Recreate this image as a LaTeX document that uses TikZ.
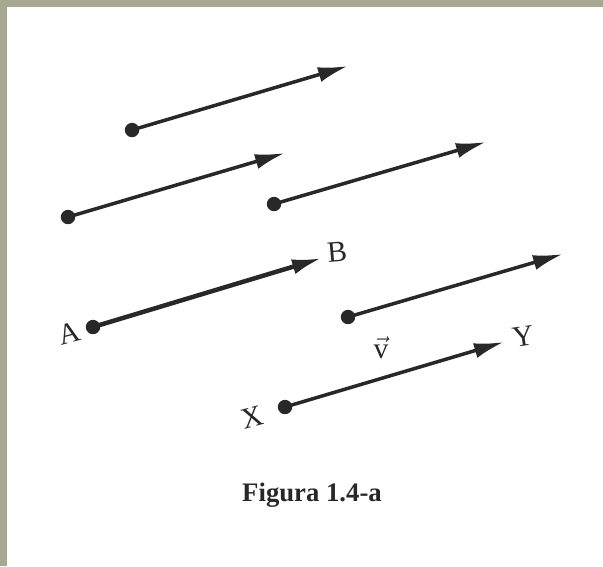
\documentclass[tikz,border=0pt]{standalone}
\usepackage{fontspec}
\setmainfont{Liberation Serif}
\usepackage{tikz}
\usetikzlibrary{arrows.meta, positioning}
\definecolor{frame}{RGB}{167,168,143}
\definecolor{ink}{RGB}{40,40,40}

\begin{document}
\begin{tikzpicture}[
      x=0.025cm, y=-0.025cm,
      dot/.style={circle, fill=ink, inner sep=0pt, minimum size=0.36cm},
      vec/.style={-{Latex[length=7.5mm, width=3.8mm]}, draw=ink, line width=2.5pt},
      lbl/.style={text=ink, font=\fontsize{21}{24}\selectfont, inner sep=0pt}
  ]
      % Page
      \useasboundingbox (0,0) rectangle (603,566);
      \fill[frame] (0,0) rectangle (603,566);
      \fill[white] (7,7) rectangle (603,566);

      % Start points
      \node[dot] (P1) at (132,130) {};
      \node[dot] (P2) at (68,217) {};
      \node[dot] (P3) at (274,204) {};
      \node[dot] (A) at (93,327) {};
      \node[dot] (P5) at (348,317) {};
      \node[dot] (X) at (285,407) {};

      % End points
      \coordinate (Q1) at (348,66);
      \coordinate (Q2) at (285,153);
      \coordinate (Q3) at (486,142);
      \coordinate (B) at (322,258);
      \coordinate (Q5) at (563,254);
      \coordinate (Y) at (504,342);

      % Labels
      \node[lbl, rotate=15] (lA) at (69,333) {A};
      \node[lbl, rotate=5] (lB) at (337,252) {B};
      \node[lbl, rotate=15] (lX) at (252,417) {X};
      \node[lbl, rotate=8] (lY) at (523,336) {Y};
      \node[lbl] (v) at (381,348) {$\vec{\mathrm{v}}$};

      % Caption
      \node[text=ink, font=\fontsize{19}{22}\selectfont\bfseries] (cap) at (312,495) {Figura 1.4-a};

      % Arrows
      \draw[vec] (P1.center) -- (Q1);
      \draw[vec] (P2.center) -- (Q2);
      \draw[vec] (P3.center) -- (Q3);
      \draw[vec, line width=3.2pt] (A.center) -- (B);
      \draw[vec] (P5.center) -- (Q5);
      \draw[vec] (X.center) -- (Y);
  \end{tikzpicture}
\end{document}
